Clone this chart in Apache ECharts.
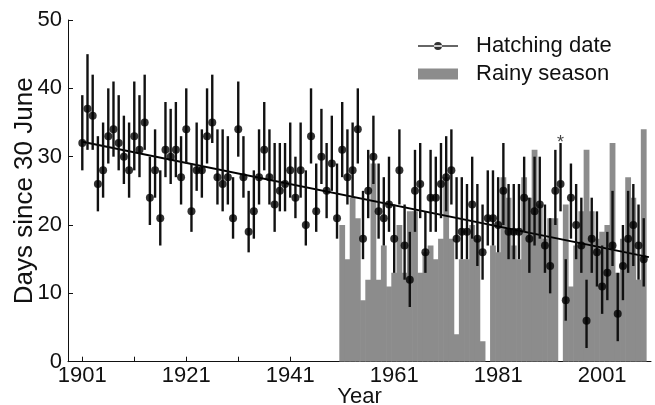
<!DOCTYPE html>
<html>
<head>
<meta charset="utf-8">
<script src="https://cdn.jsdelivr.net/npm/echarts@6/dist/echarts.min.js"></script>
<style>
  html, body { margin: 0; padding: 0; background: #fff; }
  #chart { width: 655px; height: 405px; }
</style>
</head>
<body>
<div id="chart"></div>
<script>
// ---- data ----
const hatchYears = [];
for (let y = 1901; y <= 2009; y++) hatchYears.push(y);
const hatchDate = [
  32,37,36,26,28,33,34,32,30,28,
  33,31,35,24,28,21,31,30,31,27,
  34,22,28,28,33,35,27,26,27,21,
  34,27,19,22,27,31,27,23,25,26,
  28,24,28,20,33,22,30,25,29,21,
  31,27,28,34,18,25,30,22,21,23,
  18,28,17,12,25,26,16,24,24,26,
  27,28,18,19,19,23,18,16,21,21,
  20,25,19,19,19,24,18,22,23,17,
  14,25,26,9,24,20,17,6,18,16,
  11,13,17,7,14,18,20,17,15
];
const hatchLow = [
  28,31,31,22,24,29,30,28,26,24,
  28,27,31,20,24,17,27,26,27,23,
  29,19,25,24,29,32,23,22,23,18,
  30,24,16,18,23,28,23,19,22,22,
  24,21,24,17,29,19,26,21,25,18,
  27,23,24,29,15,21,26,18,17,19,
  13,23,12,8,19,21,13,19,19,21,
  22,23,15,15,15,18,14,12,17,17,
  16,20,15,15,15,19,13,17,18,13,
  10,20,22,6,18,15,13,2,13,11,
  7,9,14,3,9,13,14,12,11
];
const hatchHigh = [
  39,45,42,33,35,40,41,39,36,35,
  41,39,42,30,34,28,38,37,38,33,
  40,29,35,34,40,42,34,34,33,27,
  41,33,25,28,34,38,34,32,32,32,
  35,30,35,28,40,29,37,32,36,29,
  38,34,35,40,25,31,36,29,27,30,
  23,34,23,19,31,32,22,31,30,32,
  33,34,27,27,26,30,26,23,28,28,
  27,32,26,26,26,30,24,30,30,23,
  21,31,32,15,29,26,24,12,24,22,
  17,19,25,13,20,25,26,23,21
];
const rainYears = [];
for (let y = 1951; y <= 2009; y++) rainYears.push(y);
const rainySeason = [
  20,15,24,21,9,12,29,12,17,11,
  13,20,13,22,22,13,16,17,15,18,
  27,18,4,15,15,20,18,3,0,17,
  16,27,24,17,15,27,24,31,23,18,
  21,21,0,23,11,17,22,31,22,18,
  19,20,32,13,18,27,24,12,34
];
const trendYears = [1901, 2010];
const trendValues = [32.2, 15.3];
const markedYears = [1993];
const xTickValues = [1901,1911,1921,1931,1941,1951,1961,1971,1981,1991,2001];
const xLabelValues = [1901,1921,1941,1961,1981,2001];

// ---- build ----
const FONT = 'Liberation Sans, Arial, sans-serif';
const pts = hatchYears.map((y, i) => [y, hatchDate[i]]);
const errs = hatchYears.map((y, i) => [y, hatchLow[i], hatchHigh[i]]);
const bars = rainYears.map((y, i) => [y, rainySeason[i]]);
const trend = trendYears.map((y, i) => [y, trendValues[i]]);
const marks = markedYears.map(y => [y, hatchHigh[hatchYears.indexOf(y)]]);

const chart = echarts.init(document.getElementById('chart'));
chart.setOption({
  animation: false,
  backgroundColor: '#fff',
  grid: { left: 68, right: 4, top: 20, bottom: 43.3, containLabel: false, outerBoundsMode: 'none' },
  xAxis: {
    type: 'value', min: 1898.25, max: 2010.4,
    name: 'Year', nameLocation: 'middle', nameGap: 24, nameMoveOverlap: false,
    nameTextStyle: { fontSize: 22, color: '#111', fontFamily: FONT },
    axisLine: { show: true, lineStyle: { color: '#111', width: 1 } },
    axisTick: { show: true, inside: true, length: 5, customValues: xTickValues, lineStyle: { color: '#111' } },
    axisLabel: { customValues: xLabelValues, fontSize: 22, color: '#111', fontFamily: FONT, margin: 3,
      formatter: v => String(v) },
    splitLine: { show: false }
  },
  yAxis: {
    type: 'value', min: 0, max: 50, interval: 10,
    name: 'Days since 30 June', nameLocation: 'middle', nameGap: 30, nameRotate: 90, nameMoveOverlap: false,
    nameTextStyle: { fontSize: 26, color: '#111', fontFamily: FONT },
    axisLine: { show: true, lineStyle: { color: '#111', width: 1 } },
    axisTick: { show: true, inside: true, length: 5, lineStyle: { color: '#111' } },
    axisLabel: { fontSize: 22, color: '#111', fontFamily: FONT, margin: 6 },
    splitLine: { show: false }
  },
  legend: [
    {
      left: 418, top: 35, padding: 0, itemWidth: 40, itemHeight: 8,
      data: [{ name: 'Hatching date',
        icon: 'path://M0,3.2L40,3.2L40,4.8L0,4.8Z M16,4A4,4 0 1,0 24,4A4,4 0 1,0 16,4Z' }],
      textStyle: { fontSize: 22, color: '#111', fontFamily: FONT, padding: [0,0,0,13] },
      selectedMode: false
    },
    {
      left: 418, top: 63, padding: 0, itemWidth: 40, itemHeight: 11,
      data: [{ name: 'Rainy season', icon: 'rect' }],
      textStyle: { fontSize: 22, color: '#111', fontFamily: FONT, padding: [0,0,0,13] },
      selectedMode: false
    }
  ],
  series: [
    {
      name: 'Rainy season', type: 'custom', data: bars, clip: true, z: 1,
      itemStyle: { color: '#8c8c8c' },
      encode: { x: 0, y: 1 },
      renderItem: function (params, api) {
        const yr = api.value(0), v = api.value(1);
        if (!v) return null;
        const a = api.coord([yr - 0.5, v]);
        const b = api.coord([yr + 0.5, 0]);
        return { type: 'rect',
          shape: { x: a[0] - 0.3, y: a[1], width: b[0] - a[0] + 0.6, height: b[1] - a[1] },
          style: { fill: '#8c8c8c' } };
      }
    },
    {
      name: 'trend', type: 'line', data: trend, symbol: 'none', z: 3,
      lineStyle: { color: '#000', width: 2 }
    },
    {
      name: 'errors', type: 'custom', data: errs, z: 4,
      encode: { x: 0, y: [1, 2] },
      renderItem: function (params, api) {
        const yr = api.value(0);
        const a = api.coord([yr, api.value(1)]);
        const b = api.coord([yr, api.value(2)]);
        return { type: 'line', shape: { x1: a[0], y1: a[1], x2: b[0], y2: b[1] },
          style: { stroke: '#111', lineWidth: 2.4 } };
      }
    },
    {
      name: 'Hatching date', type: 'scatter', data: pts, z: 5,
      symbol: 'circle', symbolSize: 8,
      itemStyle: { color: '#000' }
    },
    {
      name: 'mark', type: 'scatter', data: marks, z: 5, symbolSize: 0,
      label: { show: true, position: 'inside', formatter: '*', fontSize: 18, color: '#111', fontFamily: FONT }
    }
  ]
});
</script>
</body>
</html>
